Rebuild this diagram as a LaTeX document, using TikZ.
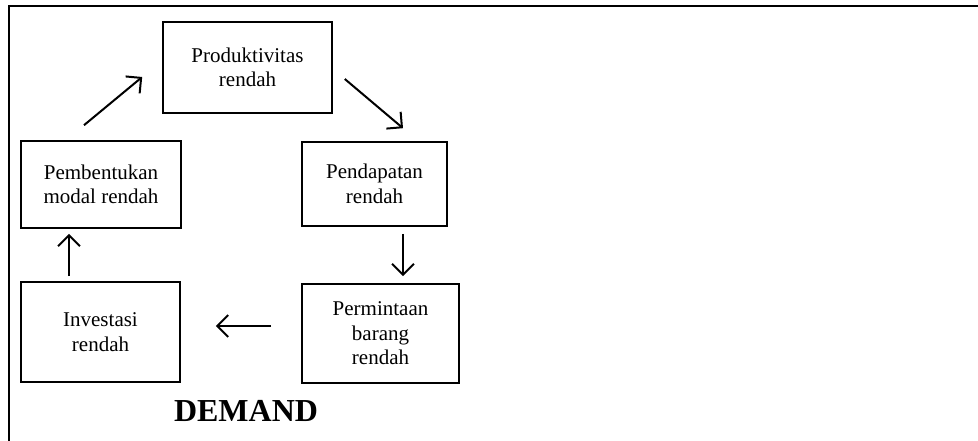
\documentclass[tikz,border=0pt]{standalone}
\usepackage{fontspec}
\setmainfont{Liberation Serif}
\usepackage{tikz}
\usetikzlibrary{arrows.meta}
\tikzset{
	box/.style 2 args={draw,line width=1.6pt,minimum width=#1,minimum height=#2,inner sep=0pt,align=center,font=\fontsize{21}{24.5}\selectfont},
	arr/.style={line width=2pt,-{Straight Barb[length=11pt,width=22pt,line width=2pt]}}
}

\begin{document}
\begin{tikzpicture}[x=1pt,y=-1pt]%[scale=1.5]
						\useasboundingbox (0,0) rectangle (978,441);
						\draw [line width=2pt] (9,441) -- (9,6) -- (978,6);

						\node [box={169pt}{91pt}] (prod) at (247.5,67.5) {Produktivitas\\rendah};
						\node [box={145pt}{84pt}] (pend) at (374.5,184) {Pendapatan\\rendah};
						\node [box={157pt}{99pt}] (perm) at (380.5,333.5) {Permintaan\\barang\\rendah};
						\node [box={159pt}{100pt}] (inv) at (100.5,332) {Investasi\\rendah};
						\node [box={160pt}{87pt}] (pemb) at (101,184.5) {Pembentukan\\modal rendah};

						\node [font=\fontsize{32}{36}\selectfont\bfseries] (dem) at (246,411) {DEMAND};

						\draw [arr] ([xshift=-17pt,yshift=15pt]pemb.north) -- ([xshift=-20pt,yshift=-9.5pt]prod.west);
						\draw [arr] ([xshift=12pt,yshift=-11.5pt]prod.east) -- ([xshift=28.5pt,yshift=13pt]pend.north);
						\draw [arr] ([xshift=28.5pt,yshift=-7pt]pend.south) -- ([xshift=22.5pt,yshift=7pt]perm.north);
						\draw [arr] ([xshift=-30pt,yshift=7.5pt]perm.west) -- ([xshift=35pt,yshift=6pt]inv.east);
						\draw [arr] ([xshift=-31.5pt,yshift=5pt]inv.north) -- ([xshift=-32pt,yshift=-5pt]pemb.south);
					\end{tikzpicture}
\end{document}
